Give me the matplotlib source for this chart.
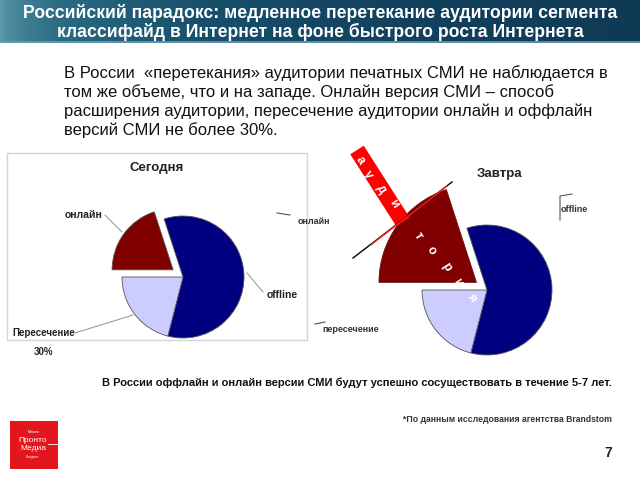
import matplotlib
matplotlib.use("Agg")
import matplotlib.pyplot as plt
import numpy as np
from matplotlib.patches import Rectangle, Polygon
from matplotlib.lines import Line2D
from matplotlib.colors import LinearSegmentedColormap

plt.rcParams['font.family'] = ['Liberation Sans', 'DejaVu Sans']

# ---- data ----
segments = ['offline', 'пересечение', 'онлайн']
today_share = [59, 21, 20]
tomorrow_share = [59, 21, 20]
seg_colors = ['#000080', '#ccccff', '#800000']
title_lines = ["Российский парадокс: медленное перетекание аудитории сегмента",
               "классифайд в Интернет на фоне быстрого роста Интернета"]
body_lines = ["В России  «перетекания» аудитории печатных СМИ не наблюдается в",
              "том же объеме, что и на западе. Онлайн версия СМИ – способ",
              "расширения аудитории, пересечение аудитории онлайн и оффлайн",
              "версий СМИ не более 30%."]
conclusion = "В России оффлайн и онлайн версии СМИ будут успешно сосуществовать в течение 5-7 лет."
footnote = "*По данным исследования агентства Brandstom"
page_no = "7"

W, H = 640, 480
fig = plt.figure(figsize=(6.4, 4.8), dpi=100)
fig.patch.set_facecolor('white')

def fx(x):
    return x / W

def fy(y):
    return 1 - y / H

def ftext(x, y, s, **kw):
    return fig.text(fx(x), fy(y), s, **kw)

def fline(xs, ys, **kw):
    ln = Line2D([fx(v) for v in xs], [fy(v) for v in ys], transform=fig.transFigure, **kw)
    fig.add_artist(ln)
    return ln

# ---- banner ----
bax = fig.add_axes([0, fy(43), 1, 43 / H])
bax.set_axis_off()
cmap = LinearSegmentedColormap.from_list('b', ['#5a9aaa', '#2a6a82', '#18506c', '#12425e', '#0f3a56'])
grad = np.linspace(0, 1, 300)
grad = np.power(grad, 0.6)
img = np.tile(grad, (20, 1))
bax.imshow(img, aspect='auto', cmap=cmap, extent=[0, 1, 0, 1])
bax.set_xlim(0, 1); bax.set_ylim(0, 1)
bax.axhline(0.03, color='#6d9cb5', lw=1.2)
ftext(320, 13, title_lines[0], ha='center', va='center', color='white', fontsize=12.7, fontweight='bold')
ftext(320, 32, title_lines[1], ha='center', va='center', color='white', fontsize=12.7, fontweight='bold')

# ---- body text ----
for i, line in enumerate(body_lines):
    ftext(64, 73 + i * 19, line, ha='left', va='center', fontsize=12, color='#111111')

# ---- left chart box ----
fig.add_artist(Rectangle((fx(7), fy(340)), fx(300), 187 / H, transform=fig.transFigure,
                         fill=False, edgecolor='#d4d4d4', lw=1))

def pie_axes(cx, cy, r, span=1.6):
    size = 2 * span * r
    ax = fig.add_axes([fx(cx - size / 2), fy(cy + size / 2), size / W, size / H])
    ax.set_axis_off()
    return ax

def fix_limits(ax, span=1.6):
    ax.set_xlim(-span, span); ax.set_ylim(-span, span)
    ax.set_aspect('equal')

# Today pie
ax1 = pie_axes(183, 277, 61)
w1, _ = ax1.pie(today_share, colors=seg_colors, startangle=108, counterclock=False,
                explode=[0, 0, 0.2], radius=1,
                wedgeprops=dict(edgecolor='#555555', linewidth=0.6))
fix_limits(ax1)
ftext(157, 168, "Сегодня", ha='center', va='center', fontsize=9.5, fontweight='bold', color='#222222')
ftext(84, 215, "онлайн", ha='center', va='center', fontsize=7.5, fontweight='bold', color='#222222')
fline([105, 122], [215, 232], color='#909090', lw=0.7)
ftext(282, 295, "offline", ha='center', va='center', fontsize=7.5, fontweight='bold', color='#222222')
fline([247, 263], [273, 292], color='#909090', lw=0.7)
ftext(44, 333, "Пересечение", ha='center', va='center', fontsize=7, fontweight='bold', color='#222222')
fline([75, 133], [333, 315], color='#909090', lw=0.7)
ftext(43, 352, "30%", ha='center', va='center', fontsize=7, fontweight='bold', color='#222222')

# Tomorrow pie
ax2 = pie_axes(487, 290, 65)
w2, _ = ax2.pie(tomorrow_share, colors=seg_colors, startangle=108, counterclock=False,
                explode=[0, 0, 0.2], radius=1,
                wedgeprops=dict(edgecolor='#555555', linewidth=0.6))
fix_limits(ax2)
w2[2].set_radius(1.5)
w2[2].set_edgecolor('#6a1010')
ftext(500, 174, "Завтра", ha='center', va='center', fontsize=9.5, fontweight='bold', color='#222222')
ftext(314, 221, "онлайн", ha='center', va='center', fontsize=6.5, fontweight='bold', color='#333333')
fline([277, 290], [213, 215], color='#555555', lw=0.8)
ftext(351, 329, "пересечение", ha='center', va='center', fontsize=6.5, fontweight='bold', color='#333333')
fline([315, 325], [324, 322], color='#555555', lw=0.8)
ftext(574, 209, "offline", ha='center', va='center', fontsize=6.5, fontweight='bold', color='#333333')
fline([572, 560, 560], [194, 196, 220], color='#555555', lw=0.8)

# decorative "аудитория" band
p0 = np.array([357.0, 150.0]); p1 = np.array([403.0, 222.0])
d = (p1 - p0) / np.linalg.norm(p1 - p0)
perp = np.array([d[1], -d[0]]) * 8
corners = [p0 + perp, p1 + perp, p1 - perp, p0 - perp]
fig.add_artist(Polygon([(fx(c[0]), fy(c[1])) for c in corners], closed=True,
                       transform=fig.transFigure, facecolor='#ff0000', edgecolor='none', zorder=5))
fline([353, 452], [258, 182], color='black', lw=1.0, zorder=6)
fline([372, 447], [244, 186], color='#ff2020', lw=1.0, zorder=6)
rot = -np.degrees(np.arctan2(d[1], d[0]))
for ch, (x, y) in zip("ауди", [(360, 160), (368, 175), (381, 189), (394, 204)]):
    ftext(x, y, ch, ha='center', va='center', rotation=rot, fontsize=9, fontweight='bold',
          color='white', zorder=7)
for ch, (x, y) in zip("тория", [(418, 236), (431, 251), (446, 267), (458, 283), (472, 297)]):
    ftext(x, y, ch, ha='center', va='center', rotation=rot, fontsize=9, fontweight='bold',
          color='white', zorder=7)

# ---- bottom texts ----
ftext(612, 383, conclusion, ha='right', va='center', fontsize=8.0, fontweight='bold', color='#111111')
ftext(612, 419, footnote, ha='right', va='center', fontsize=6.2, fontweight='bold', color='#333333')
ftext(612, 453, page_no, ha='right', va='center', fontsize=10, fontweight='bold', color='#222222')

# logo
fig.add_artist(Rectangle((fx(10), fy(469)), 48 / W, 48 / H, transform=fig.transFigure,
                         facecolor='#e3161e', edgecolor='none'))
ftext(34, 432, "Москва", ha='center', va='center', fontsize=2.5, color='white')
ftext(33, 440, "Пронто", ha='center', va='center', fontsize=6, color='white')
ftext(33, 449, "Медиа", ha='center', va='center', fontsize=6, color='white')
ftext(33, 457, "Холдинг", ha='center', va='center', fontsize=2.5, color='white')
fline([48, 58], [444, 444], color='white', lw=0.6)

fig.savefig('out.png', dpi=100)
